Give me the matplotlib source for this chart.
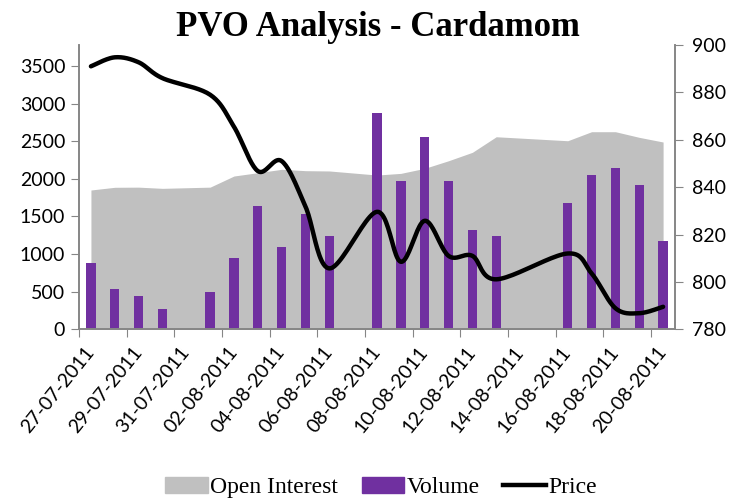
import numpy as np
import pandas as pd
import matplotlib
matplotlib.use("Agg")
import matplotlib.pyplot as plt
from matplotlib.patches import Patch
from matplotlib.lines import Line2D

# trading days only (Sundays and 15-08 missing)
dates = ["27-07-2011", "28-07-2011", "29-07-2011", "30-07-2011",
         "01-08-2011", "02-08-2011", "03-08-2011", "04-08-2011", "05-08-2011", "06-08-2011",
         "08-08-2011", "09-08-2011", "10-08-2011", "11-08-2011", "12-08-2011", "13-08-2011",
         "16-08-2011", "17-08-2011", "18-08-2011", "19-08-2011", "20-08-2011"]
open_interest = [1852, 1888, 1890, 1874, 1890, 2038, 2082, 2127, 2109, 2105,
                 2051, 2073, 2140, 2241, 2353, 2560, 2507, 2627, 2627, 2552, 2490]
volume = [880, 540, 443, 274, 492, 952, 1635, 1098, 1537, 1244,
          2871, 1971, 2552, 1971, 1320, 1244, 1679, 2047, 2144, 1922, 1174]
price = [891, 894.8, 892.7, 886, 879, 865.5, 846.8, 851, 831.8, 805.7,
         829.6, 808.5, 825.8, 811, 811, 801.1, 812, 803.6, 788.9, 786.8, 789.5]
tick_labels = ["27-07-2011", "29-07-2011", "31-07-2011", "02-08-2011", "04-08-2011",
               "06-08-2011", "08-08-2011", "10-08-2011", "12-08-2011", "14-08-2011",
               "16-08-2011", "18-08-2011", "20-08-2011"]

d = pd.to_datetime(dates, format="%d-%m-%Y")
x = np.array((d - d[0]).days, dtype=float)
ndays = 25

axis_col = "#868686"
lab_font = "Lato"

fig = plt.figure(figsize=(7.33, 5.01), dpi=100)
fig.subplots_adjust(left=0.1078, right=0.9209, top=0.9102, bottom=0.3427)
ax = fig.add_subplot(111)

ax.fill_between(x, 0, open_interest, color="#C0C0C0", linewidth=0, zorder=1)
ax.bar(x, volume, width=0.39, color="#7030A0", zorder=2)
ax.set_xlim(-0.5, ndays - 0.5)
ax.set_ylim(0, 3780)
ax.set_yticks(np.arange(0, 3501, 500))

ax.set_xticks(np.arange(-0.5, ndays - 1, 2))
ax.set_xticklabels([])
ax.set_xticks(np.arange(0, ndays, 2), minor=True)
ax.set_xticklabels(tick_labels, minor=True, rotation=51, ha="right",
                   rotation_mode="anchor", va="center", fontsize=14, family=lab_font)
for t in ax.get_xticklabels(minor=True):
    t.set_x(t.get_position()[0])
ax.tick_params(axis="x", which="minor", length=0, pad=14)
ax.tick_params(axis="x", which="major", length=6, color=axis_col, direction="out")
ax.tick_params(axis="y", length=6, color=axis_col, labelsize=14, pad=4)
for t in ax.get_yticklabels():
    t.set_family(lab_font)

ax2 = ax.twinx()
ax2.set_ylim(780, 900)
ax2.set_yticks(np.arange(780, 901, 20))
ax2.tick_params(axis="y", length=6, color=axis_col, labelsize=14, pad=6)
for t in ax2.get_yticklabels():
    t.set_family(lab_font)

for a in (ax, ax2):
    a.spines["top"].set_visible(False)
    for s in ("left", "right", "bottom"):
        a.spines[s].set_color(axis_col)
        a.spines[s].set_linewidth(1.2)


def smooth(xs, ys, trans, n=24):
    # Excel-like smoothed line: cubic bezier through points in screen space
    p = trans.transform(np.column_stack([xs, ys]))
    p = np.vstack([p[0], p, p[-1]])
    out = []
    t = np.linspace(0, 1, n)[:, None]
    for i in range(1, len(p) - 2):
        p0, p1, p2, p3 = p[i - 1], p[i], p[i + 1], p[i + 2]
        c1 = p1 + (p2 - p0) / 6
        c2 = p2 - (p3 - p1) / 6
        seg = ((1 - t) ** 3) * p1 + 3 * ((1 - t) ** 2) * t * c1 + 3 * (1 - t) * t ** 2 * c2 + t ** 3 * p2
        out.append(seg)
    return trans.inverted().transform(np.vstack(out))


sm = smooth(x, price, ax2.transData)
ax2.plot(sm[:, 0], sm[:, 1], color="black", linewidth=3.2, solid_capstyle="round", zorder=3)

fig.text(0.516, 0.946, "PVO Analysis - Cardamom", ha="center", va="center",
         fontsize=25, fontweight="bold", family="Liberation Serif")

handles = [Patch(color="#C0C0C0"), Patch(color="#7030A0"),
           Line2D([0], [0], color="black", linewidth=3.2)]
fig.legend(handles, ["Open Interest", "Volume", "Price"], loc="center",
           bbox_to_anchor=(0.52, 0.027), ncol=3, frameon=False,
           prop={"family": "Liberation Serif", "size": 17},
           handlelength=1.8, handleheight=0.7, handletextpad=0.1, columnspacing=1.0)

fig.savefig("out.png", dpi=100)
